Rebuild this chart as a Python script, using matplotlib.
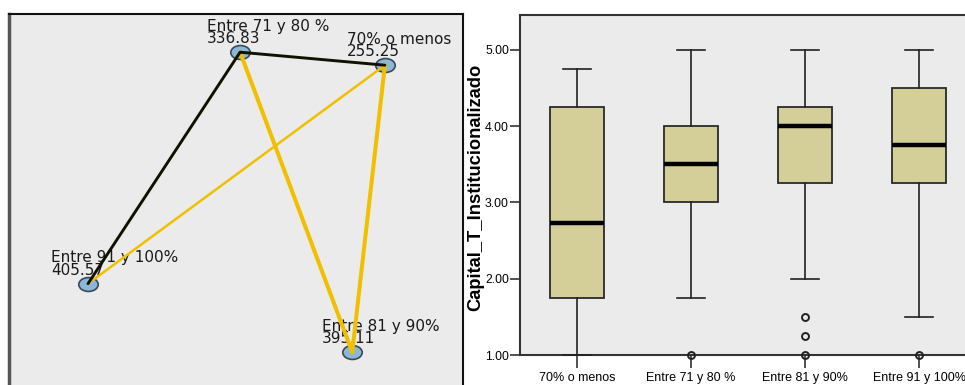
import matplotlib
matplotlib.use("Agg")
import matplotlib.pyplot as plt
from matplotlib import font_manager
from matplotlib.markers import MarkerStyle
from matplotlib.transforms import Affine2D

# ---- network panel data ----
node_names = ["Entre 71 y 80 %", "70% o menos", "Entre 91 y 100%", "Entre 81 y 90%"]
node_values = [336.83, 255.25, 405.57, 395.11]
# edges: (from, to, colour group, strength)
edge_from = ["Entre 71 y 80 %", "Entre 71 y 80 %", "Entre 71 y 80 %", "70% o menos", "70% o menos"]
edge_to = ["70% o menos", "Entre 91 y 100%", "Entre 81 y 90%", "Entre 81 y 90%", "Entre 91 y 100%"]
edge_sign = ["neg", "neg", "pos", "pos", "pos"]
edge_strength = [2, 2, 2, 2, 1]

# ---- box plot data ----
categories = ["70% o menos", "Entre 71 y 80 %", "Entre 81 y 90%", "Entre 91 y 100%"]
whisker_low = [1.00, 1.75, 2.00, 1.50]
q1 = [1.75, 3.00, 3.25, 3.25]
median = [2.73, 3.50, 4.00, 3.75]
q3 = [4.25, 4.00, 4.25, 4.50]
whisker_high = [4.75, 5.00, 5.00, 5.00]
outliers = [[], [1.00], [1.50, 1.25, 1.00], [1.00]]
y_ticks = [1.0, 2.0, 3.0, 4.0, 5.0]

# ---- layout of the network nodes (axes units, y downward) ----
node_pos = {
    "Entre 71 y 80 %": (50.9, 10.0),
    "70% o menos": (82.8, 13.4),
    "Entre 91 y 100%": (17.4, 70.6),
    "Entre 81 y 90%": (75.6, 88.5),
}
label_dx = {
    "Entre 71 y 80 %": -33,
    "70% o menos": -38,
    "Entre 91 y 100%": -37,
    "Entre 81 y 90%": -30,
}

available = {f.name for f in font_manager.fontManager.ttflist}
sans = "Liberation Sans" if "Liberation Sans" in available else "DejaVu Sans"

BG = "#EBEBEB"
FIG_W, FIG_H = 965, 385
fig = plt.figure(figsize=(FIG_W / 100, FIG_H / 100), dpi=100)
fig.patch.set_facecolor("white")


def px_axes(x0, y0, x1, y1):
    return fig.add_axes([x0 / FIG_W, (FIG_H - y1) / FIG_H, (x1 - x0) / FIG_W, (y1 - y0) / FIG_H])


# ===== left: network diagram =====
axn = px_axes(9, 14, 463, 396)
axn.set_facecolor(BG)
axn.set_xlim(0, 100)
axn.set_ylim(100, 0)
axn.set_xticks([])
axn.set_yticks([])
for s in axn.spines.values():
    s.set_color("#111111")
    s.set_linewidth(1.5)
axn.spines["left"].set_color("#555555")
axn.spines["left"].set_linewidth(2.5)

# node labels sit beneath the edges
for name, val in zip(node_names, node_values):
    x, y = node_pos[name]
    axn.annotate(f"{name}\n{val:.2f}", (x, y), xytext=(label_dx[name], 6),
                 textcoords="offset pixels", ha="left", va="bottom",
                 fontsize=11, family="DejaVu Sans", color="#1a1a1a",
                 linespacing=0.78, zorder=1)

node_marker = MarkerStyle("o", transform=Affine2D().scale(1.4, 1.0))
for name in node_names:
    x, y = node_pos[name]
    axn.plot(x, y, marker=node_marker, ms=10, markerfacecolor="#8BB8D8",
             markeredgecolor="#3A4A55", markeredgewidth=1.2, zorder=1.5)

colors = {"neg": "#111100", "pos": "#F0C000"}
widths = {"neg": {1: 1.6, 2: 2.1}, "pos": {1: 1.8, 2: 2.9}}
for a, b, sgn, st in zip(edge_from, edge_to, edge_sign, edge_strength):
    xa, ya = node_pos[a]
    xb, yb = node_pos[b]
    z = 3 if sgn == "neg" else 2
    axn.plot([xa, xb], [ya, yb], color=colors[sgn], lw=widths[sgn][st],
             solid_capstyle="round", zorder=z)

# ===== right: box plot =====
axb = px_axes(520, 15, 976, 355)
axb.set_facecolor(BG)
positions = list(range(len(categories)))
stats = []
for i, c in enumerate(categories):
    stats.append(dict(label=c, whislo=whisker_low[i], q1=q1[i], med=median[i],
                      q3=q3[i], whishi=whisker_high[i], fliers=outliers[i]))
axb.bxp(stats, positions=positions, widths=0.47, patch_artist=True,
        boxprops=dict(facecolor="#D4CF98", edgecolor="#2A2A2A", linewidth=1.3),
        medianprops=dict(color="black", linewidth=3.2, solid_capstyle="butt"),
        whiskerprops=dict(color="#222222", linewidth=1.2),
        capprops=dict(color="#222222", linewidth=1.2),
        capwidths=0.24,
        flierprops=dict(marker="o", markersize=5, markerfacecolor="none",
                        markeredgecolor="#222222", markeredgewidth=1.4),
        zorder=3)
for art in axb.lines + axb.patches:
    art.set_clip_on(False)

axb.set_xlim(-0.5, 3.5)
axb.set_ylim(1.0, 5.459)
axb.set_yticks(y_ticks)
axb.set_yticklabels([f"{v:.2f}" for v in y_ticks], family=sans, fontsize=8.8)
axb.set_xticks(positions)
axb.set_xticklabels(categories, family=sans, fontsize=9.0)
axb.tick_params(axis="y", length=7, width=1.2, color="#333333", pad=1)
axb.tick_params(axis="x", length=9, width=1.2, color="#333333", pad=3)
axb.set_ylabel("Capital_T_Institucionalizado", family=sans,
               fontweight="bold", fontsize=13.2, ha="center", va="center")
axb.yaxis.set_label_coords(-0.098, 0.493)
for s in ("top", "left", "bottom"):
    axb.spines[s].set_color("#333333")
    axb.spines[s].set_linewidth(1.5)
axb.spines["right"].set_visible(False)

fig.savefig("out.png", dpi=100, facecolor="white")
